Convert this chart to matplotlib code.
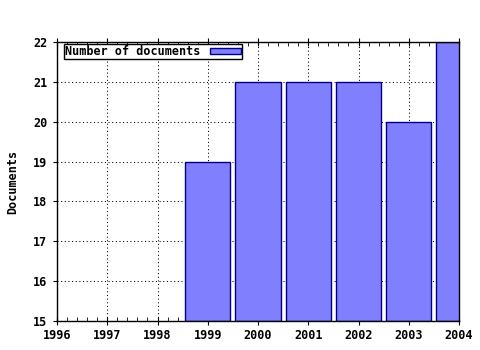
import matplotlib
matplotlib.use("Agg")
import matplotlib.pyplot as plt
from matplotlib.ticker import MultipleLocator

years = [1999, 2000, 2001, 2002, 2003, 2004]
documents = [19, 21, 21, 21, 20, 22]
xticks = [1996, 1997, 1998, 1999, 2000, 2001, 2002, 2003, 2004]
yticks = [15, 16, 17, 18, 19, 20, 21, 22]

plt.rcParams['font.family'] = ['DejaVu Sans Mono']
plt.rcParams['font.weight'] = 'bold'

fig = plt.figure(figsize=(4.8, 3.5), dpi=100)
ax = fig.add_axes([57/480, 29/350, 402/480, 279/350])

ax.bar(years, [d - 15 for d in documents], bottom=15, width=0.9,
       color='#8080FF', edgecolor='#000080', linewidth=1,
       label='Number of documents', zorder=2)

ax.set_xlim(1996, 2004)
ax.set_ylim(15, 22)
ax.set_xticks(xticks)
ax.set_xticklabels([str(x) for x in xticks])
ax.set_yticks(yticks)
ax.xaxis.set_minor_locator(MultipleLocator(0.2))
ax.tick_params(axis='x', which='major', direction='inout', length=6, top=True, labelsize=8.5, pad=3)
ax.tick_params(axis='x', which='minor', direction='in', length=3, top=True)
ax.tick_params(axis='y', which='major', direction='out', length=3, labelsize=8.5, pad=4)
for lab in ax.get_xticklabels() + ax.get_yticklabels():
    lab.set_fontweight('bold')

ax.grid(True, which='major', color='black', linestyle=(0, (1, 2.5)), linewidth=0.75, zorder=1)
ax.set_axisbelow(True)
for s in ax.spines.values():
    s.set_linewidth(1)
    s.set_color('black')

ax.set_ylabel('Documents', fontsize=8.5, fontweight='bold')
ax.yaxis.set_label_coords((19 - 57) / 402, 0.5)

leg = ax.legend(loc='upper left', bbox_to_anchor=(7/402, 1 - 2/279), borderaxespad=0,
                markerfirst=False, fancybox=False, framealpha=1,
                edgecolor='black', fontsize=8.5, borderpad=0.1, handlelength=2.6,
                handleheight=0.5, handletextpad=0.8)
leg.get_frame().set_linewidth(1)
for t in leg.get_texts():
    t.set_fontweight('bold')

fig.savefig('out.png', dpi=100)
